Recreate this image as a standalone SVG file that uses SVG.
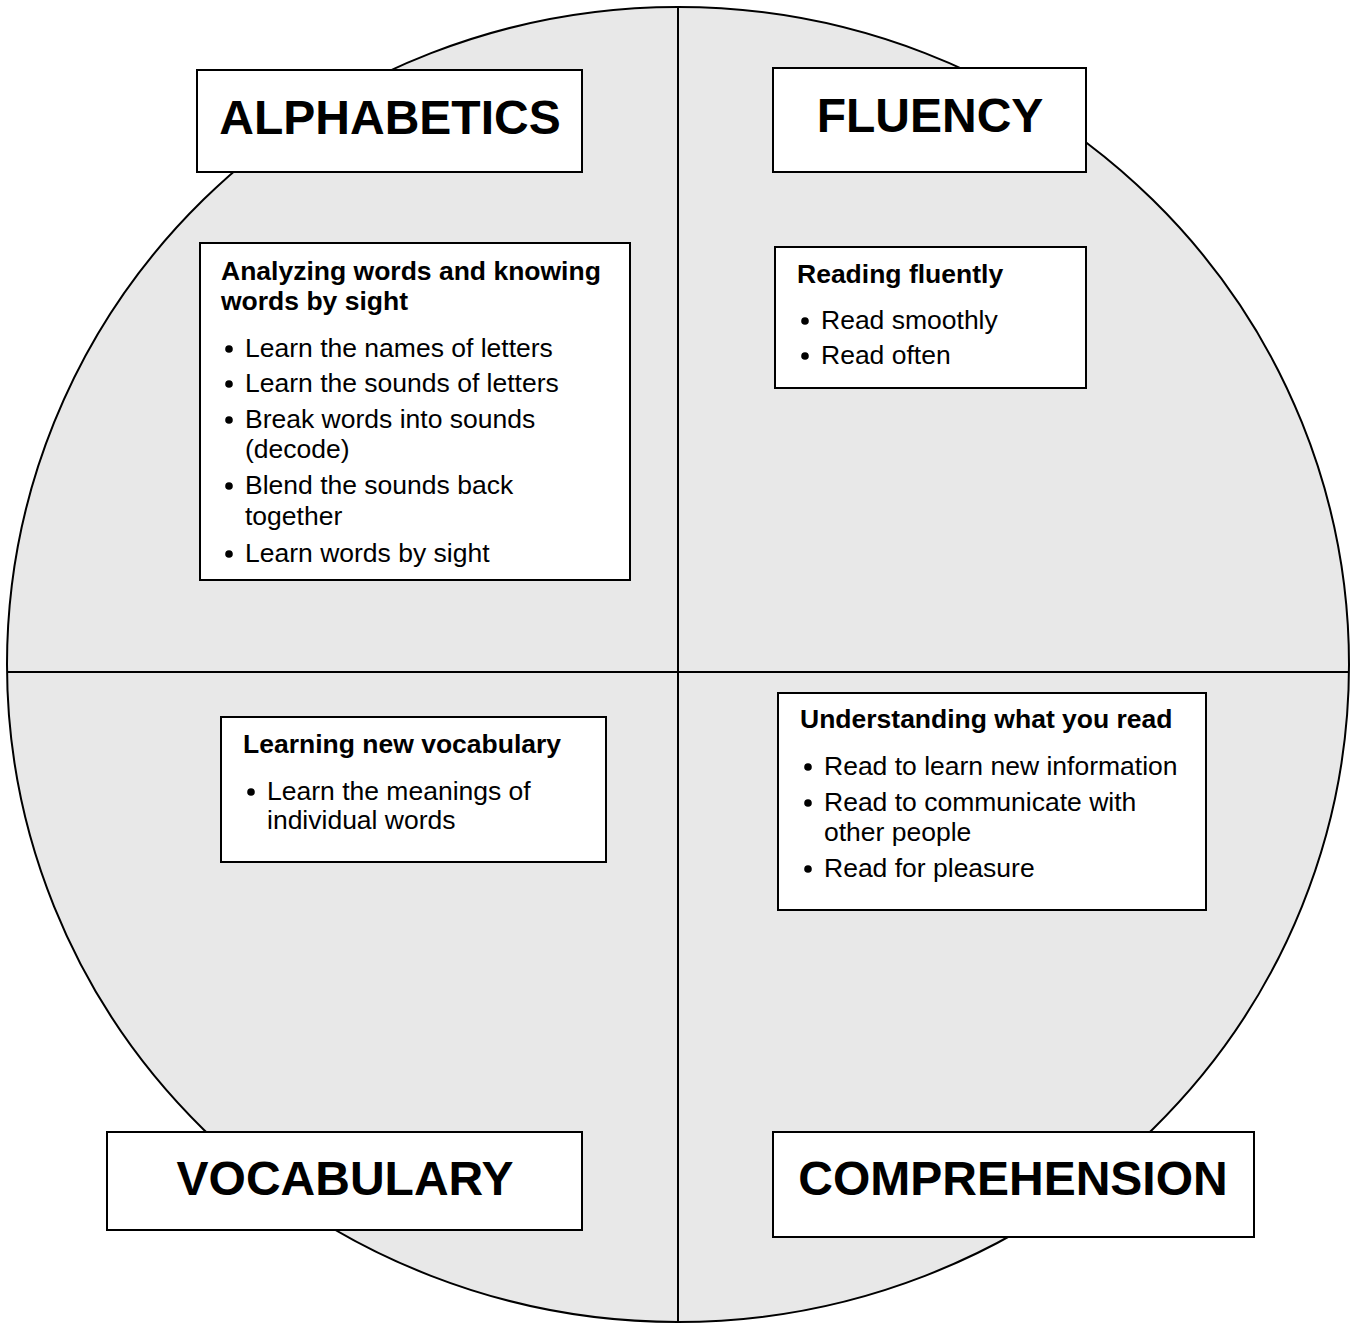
<svg xmlns="http://www.w3.org/2000/svg" width="1356" height="1323" viewBox="0 0 1356 1323">
<style>
.bg{fill:#e8e8e8;stroke:#000;stroke-width:2}
.ln{stroke:#000;stroke-width:2;fill:none}
.box{fill:#fff;stroke:#000;stroke-width:2}
.title{font-family:"Liberation Sans",Arial,sans-serif;font-weight:bold;font-size:48px;fill:#000;text-anchor:middle}
.hd{font-family:"Liberation Sans",Arial,sans-serif;font-weight:bold;font-size:26.5px;fill:#000}
.tx{font-family:"Liberation Sans",Arial,sans-serif;font-size:26.5px;fill:#000}
.dot{fill:#000}
</style>
<rect width="1356" height="1323" fill="#fff"/>
<ellipse class="bg" cx="678" cy="664.5" rx="671" ry="657.5"/>
<g id="connectors">
<line class="ln" x1="678" y1="8" x2="678" y2="1323"/>
<line class="ln" x1="7" y1="672" x2="1349" y2="672"/>
</g>
<g id="alphabetics">
<rect class="box" x="197" y="70" width="385" height="102"/>
<text class="title" x="390" y="134">ALPHABETICS</text>
</g>
<g id="fluency">
<rect class="box" x="773" y="68" width="313" height="104"/>
<text class="title" x="930" y="132">FLUENCY</text>
</g>
<g id="vocabulary">
<rect class="box" x="107" y="1132" width="475" height="98"/>
<text class="title" x="345" y="1195">VOCABULARY</text>
</g>
<g id="comprehension">
<rect class="box" x="773" y="1132" width="481" height="105"/>
<text class="title" x="1013" y="1195">COMPREHENSION</text>
</g>
<g id="alphabetics-details">
<rect class="box" x="200" y="243" width="430" height="337"/>
<text class="hd" x="221" y="280">Analyzing words and knowing</text>
<text class="hd" x="221" y="310">words by sight</text>
<circle class="dot" cx="229" cy="349" r="3.8"/>
<text class="tx" x="245" y="357">Learn the names of letters</text>
<circle class="dot" cx="229" cy="384" r="3.8"/>
<text class="tx" x="245" y="392">Learn the sounds of letters</text>
<circle class="dot" cx="229" cy="420" r="3.8"/>
<text class="tx" x="245" y="428">Break words into sounds</text>
<text class="tx" x="245" y="458">(decode)</text>
<circle class="dot" cx="229" cy="486" r="3.8"/>
<text class="tx" x="245" y="494">Blend the sounds back</text>
<text class="tx" x="245" y="525">together</text>
<circle class="dot" cx="229" cy="554" r="3.8"/>
<text class="tx" x="245" y="562">Learn words by sight</text>
</g>
<g id="fluency-details">
<rect class="box" x="775" y="247" width="311" height="141"/>
<text class="hd" x="797" y="283">Reading fluently</text>
<circle class="dot" cx="805" cy="321" r="3.8"/>
<text class="tx" x="821" y="329">Read smoothly</text>
<circle class="dot" cx="805" cy="356" r="3.8"/>
<text class="tx" x="821" y="364">Read often</text>
</g>
<g id="vocabulary-details">
<rect class="box" x="221" y="717" width="385" height="145"/>
<text class="hd" x="243" y="753">Learning new vocabulary</text>
<circle class="dot" cx="251" cy="792" r="3.8"/>
<text class="tx" x="267" y="800">Learn the meanings of</text>
<text class="tx" x="267" y="829">individual words</text>
</g>
<g id="comprehension-details">
<rect class="box" x="778" y="693" width="428" height="217"/>
<text class="hd" x="800" y="728">Understanding what you read</text>
<circle class="dot" cx="808" cy="767" r="3.8"/>
<text class="tx" x="824" y="775">Read to learn new information</text>
<circle class="dot" cx="808" cy="803" r="3.8"/>
<text class="tx" x="824" y="811">Read to communicate with</text>
<text class="tx" x="824" y="841">other people</text>
<circle class="dot" cx="808" cy="869" r="3.8"/>
<text class="tx" x="824" y="877">Read for pleasure</text>
</g>
</svg>
